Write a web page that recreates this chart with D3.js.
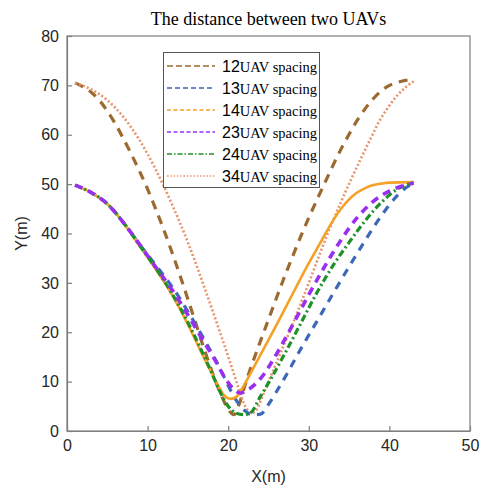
<!DOCTYPE html>
<html>
<head>
<meta charset="utf-8">
<script src="https://cdn.jsdelivr.net/npm/d3@7"></script>
<style>
html,body{margin:0;padding:0;background:#fff;}
svg{display:block;}
</style>
</head>
<body>
<svg id="chart" width="481" height="495"></svg>
<script>
// ---- data ----
const seriesNames = ["12", "13", "14", "23", "24", "34"];
const xTicks = [0, 10, 20, 30, 40, 50];
const yTicks = [0, 10, 20, 30, 40, 50, 60, 70, 80];

const s12 = [[1,70.5],[2,69.7],[3,68.6],[4,67],[5,64.8],[6,62.2],[7,59.2],[8,56],[9,52.6],[10,49],[11,45],[12,40.8],[13,36.3],[14,31.6],[15,26.7],[16,21.7],[17,16.7],[18,12],[19,7.8],[20,4.4],[20.7,3.3],[21.4,5.6],[22,8.8],[22.5,11.4],[23,13.7],[24,18.2],[25,22.6],[26,27],[27,31.3],[28,35.4],[29,39.4],[30,43.2],[31,46.8],[32,50.3],[33,53.8],[34,57.1],[35,60.1],[36,62.9],[37,65.3],[38,67.3],[39,68.9],[40,70],[41,70.6],[42,71],[43,71.3]];
const s13 = [[1,49.8],[3,48.3],[5,46],[7,42.2],[9,37.8],[11,33.6],[13,29.3],[15,24.2],[17,18.6],[19,12.6],[20,9.2],[21,6.2],[22,4.2],[23,3.3],[24,3.4],[25,5.4],[26,8],[27.3,11.6],[29,16.6],[31,22.2],[33,27.8],[35,33.3],[37,38.6],[39,43.6],[41,47.7],[42,49.2],[43,50.2]];
const s14 = [[1,49.8],[3,48.3],[5,46],[7,42.2],[9,37.5],[11,32.8],[13,27.7],[15,21.6],[17,14.8],[18.5,10],[19.5,7.2],[20.3,6.5],[21,6.9],[21.8,8.8],[23,12.4],[24,15.4],[26,21.5],[28,27.8],[30,34],[31,36.9],[32,39.8],[33,42.6],[34,45],[35,46.9],[36,48.3],[37,49.2],[38,49.8],[39,50.1],[40,50.3],[43,50.4]];
const s23 = [[1,49.8],[3,48.3],[5,46],[7,42.2],[9,37.8],[11,33.2],[13,28.7],[15,23.5],[17,18],[18.5,14],[19.5,11],[20.5,8.8],[21.5,7.7],[22.5,8.4],[24,10.6],[26,15.6],[28,21.5],[30,27.6],[32,33.4],[34,38.7],[36,43.2],[38,46.5],[40,48.6],[42,49.8],[43,50.2]];
const s24 = [[1,49.8],[3,48.3],[5,46],[7,42.2],[9,37.6],[11,33],[13,27.9],[15,22],[17,15.2],[18,11.6],[19,7.9],[20,5],[21,3.6],[22,3.3],[22.8,3.7],[24,7],[25.2,10.3],[27,15.6],[29,21.8],[31,28],[33,33.5],[35,38.2],[37,42.6],[39,46.3],[41,49],[43,50.3]];
const s34 = [[1,70.5],[3,69.2],[5,67],[7,63.6],[9,58.9],[11,53],[13,46],[15,38.2],[17,29.3],[18.5,22.3],[19.5,17.5],[20.5,12.6],[21.3,8.6],[22,5.4],[22.5,4],[22.9,3.6],[23.5,4.3],[24.4,7.6],[25.2,10.8],[26.5,15.8],[28,21.7],[29,25.8],[30.1,30.4],[31.3,35.6],[32.6,41],[34,46.4],[35.2,50.8],[36.3,54.6],[37.6,59],[38.8,62.9],[40,65.9],[41,68],[42,69.6],[43,70.8]];

const seriesData = [s12, s13, s14, s23, s24, s34];

// ---- styles ----
const styles = {
  "12": {color:"#9c6a30", width:3.2, dash:"9,7",       ldash:"6,3"},
  "13": {color:"#3d68b8", width:3.2, dash:"8,7",       ldash:"5,3"},
  "14": {color:"#f5a127", width:2.6, dash:null,        ldash:"4,2.5"},
  "23": {color:"#9b2ff0", width:3.6, dash:"8,6",       ldash:"4,2.5"},
  "24": {color:"#1e9128", width:3.2, dash:"7,3,2,3",   ldash:"5,2,1.5,2"},
  "34": {color:"#e8936a", width:2.6, dash:"2,2.2",     ldash:"1.5,1.8"}
};
const drawOrder = ["12", "34", "13", "14", "24", "23"];

// ---- layout ----
const svg = d3.select("#chart");
const x = d3.scaleLinear().domain([0,50]).range([67, 470]);
const y = d3.scaleLinear().domain([0,80]).range([431, 36]);

const axisColor = "#7f7f7f";
const textColor = "#262626";
const sans = "Arial, 'Liberation Sans', Helvetica, sans-serif";
const serif = "'Times New Roman', 'Liberation Serif', serif";

// frame
svg.append("rect")
  .attr("x", x(0)).attr("y", y(80))
  .attr("width", x(50)-x(0)).attr("height", y(0)-y(80))
  .attr("fill", "none").attr("stroke", axisColor).attr("stroke-width", 1.2);

// axes
const xAxis = d3.axisBottom(x).tickValues(xTicks).tickSizeInner(-5).tickSizeOuter(0).tickPadding(9);
const gx = svg.append("g").attr("transform", `translate(0,${y(0)})`).call(xAxis);
const yAxis = d3.axisLeft(y).tickValues(yTicks).tickSizeInner(-5).tickSizeOuter(0).tickPadding(8);
const gy = svg.append("g").attr("transform", `translate(${x(0)},0)`).call(yAxis);
[gx, gy].forEach(g => {
  g.select(".domain").attr("stroke", axisColor).attr("stroke-width", 1.2);
  g.selectAll(".tick line").attr("stroke", axisColor).attr("stroke-width", 1.2);
  g.selectAll(".tick text").attr("fill", textColor).style("font-family", sans).style("font-size", "16px");
});

// axis labels & title
svg.append("text").attr("x", (x(0)+x(50))/2).attr("y", 482)
  .attr("text-anchor", "middle").attr("fill", textColor)
  .style("font-family", sans).style("font-size", "16px").text("X(m)");
svg.append("text").attr("transform", `translate(27,${(y(0)+y(80))/2}) rotate(-90)`)
  .attr("text-anchor", "middle").attr("fill", textColor)
  .style("font-family", sans).style("font-size", "16px").text("Y(m)");
svg.append("text").attr("x", (x(0)+x(50))/2).attr("y", 25)
  .attr("text-anchor", "middle").attr("fill", "#000")
  .style("font-family", serif).style("font-size", "18px").text("The distance between two UAVs");

// lines
const line = d3.line().x(d => x(d[0])).y(d => y(d[1])).curve(d3.curveMonotoneX);
const plot = svg.append("g");
drawOrder.forEach(name => {
  const i = seriesNames.indexOf(name);
  const st = styles[name];
  plot.append("path")
    .datum(seriesData[i])
    .attr("d", line)
    .attr("fill", "none")
    .attr("stroke", st.color)
    .attr("stroke-width", st.width)
    .attr("stroke-dasharray", st.dash)
    .attr("stroke-linejoin", "round");
});

// legend
const lg = svg.append("g");
lg.append("rect").attr("x", 163.5).attr("y", 52.5).attr("width", 156).attr("height", 135)
  .attr("fill", "#fff").attr("stroke", "#555").attr("stroke-width", 1);
seriesNames.forEach((name, i) => {
  const st = styles[name];
  const yy = 66 + i * 22;
  lg.append("line").attr("x1", 167).attr("x2", 215).attr("y1", yy).attr("y2", yy)
    .attr("stroke", st.color).attr("stroke-width", 1.3).attr("stroke-dasharray", st.ldash);
  const t = lg.append("text").attr("x", 222).attr("y", yy + 6).attr("fill", "#000");
  t.append("tspan").style("font-family", sans).style("font-size", "16px").text(name);
  t.append("tspan").style("font-family", serif).style("font-size", "14.5px").text("UAV spacing");
});
</script>
</body>
</html>
